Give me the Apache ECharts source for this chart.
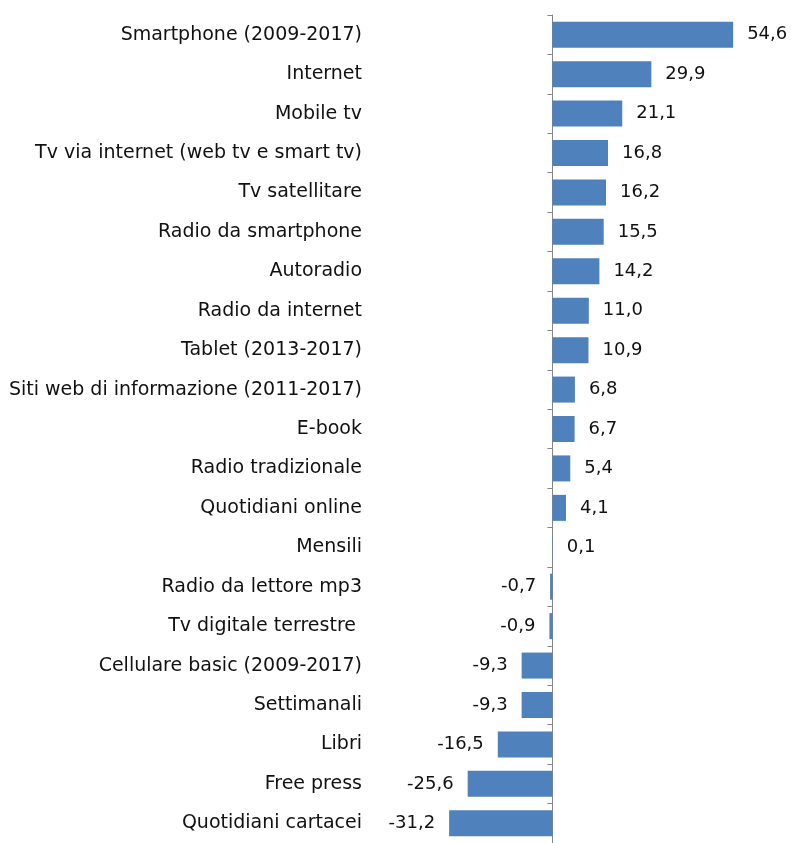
<!DOCTYPE html>
<html lang="it">
<head>
  <meta charset="UTF-8" />
  <title>Variazione uso dei media</title>
  <script src="https://cdn.jsdelivr.net/npm/echarts@6/dist/echarts.min.js"></script>
  <style>
    html, body, #main {
      margin: 0; padding: 0; width: 100%; height: 100%;
      background: #ffffff;
    }
  </style>
</head>
<body>
  <div id="main"></div>
  <script>
    const categories = [
      'Smartphone (2009-2017)', 'Internet', 'Mobile tv',
      'Tv via internet (web tv e smart tv)', 'Tv satellitare',
      'Radio da smartphone', 'Autoradio', 'Radio da internet',
      'Tablet (2013-2017)', 'Siti web di informazione (2011-2017)',
      'E-book', 'Radio tradizionale', 'Quotidiani online', 'Mensili',
      'Radio da lettore mp3', 'Tv digitale terrestre ',
      'Cellulare basic (2009-2017)', 'Settimanali', 'Libri',
      'Free press', 'Quotidiani cartacei'
    ];
    const values = [
      54.6, 29.9, 21.1, 16.8, 16.2, 15.5, 14.2, 11.0, 10.9, 6.8,
      6.7, 5.4, 4.1, 0.1, -0.7, -0.9, -9.3, -9.3, -16.5, -25.6, -31.2
    ];

    const font = '"DejaVu Sans", sans-serif';
    const chart = echarts.init(document.getElementById('main'));

    chart.setOption({
      animation: false,
      grid: { left: 420, width: 331, top: 15, height: 829 },
      xAxis: {
        type: 'value',
        min: -40,
        max: 60,
        show: false
      },
      yAxis: [
        {
          type: 'category',
          inverse: true,
          data: categories,
          axisLine: { onZero: true, lineStyle: { color: '#868686', width: 1 } },
          axisTick: { show: true, length: 5, lineStyle: { color: '#868686' } },
          axisLabel: { show: false }
        },
        {
          type: 'category',
          inverse: true,
          position: 'left',
          data: categories,
          axisLine: { show: false, onZero: false },
          axisTick: { show: false },
          axisLabel: {
            margin: 58,
            color: '#111',
            fontSize: 19,
            fontFamily: font
          }
        }
      ],
      series: [{
        type: 'bar',
        yAxisIndex: 0,
        barCategoryGap: '34%',
        data: values.map(v => ({
          value: v,
          label: { position: v < 0 ? 'left' : 'right' }
        })),
        itemStyle: { color: '#4f81bd' },
        label: {
          show: true,
          distance: 14,
          color: '#111',
          fontSize: 18,
          fontFamily: font,
          formatter: p => p.value.toFixed(1).replace('.', ',')
        }
      }]
    });
  </script>
</body>
</html>
